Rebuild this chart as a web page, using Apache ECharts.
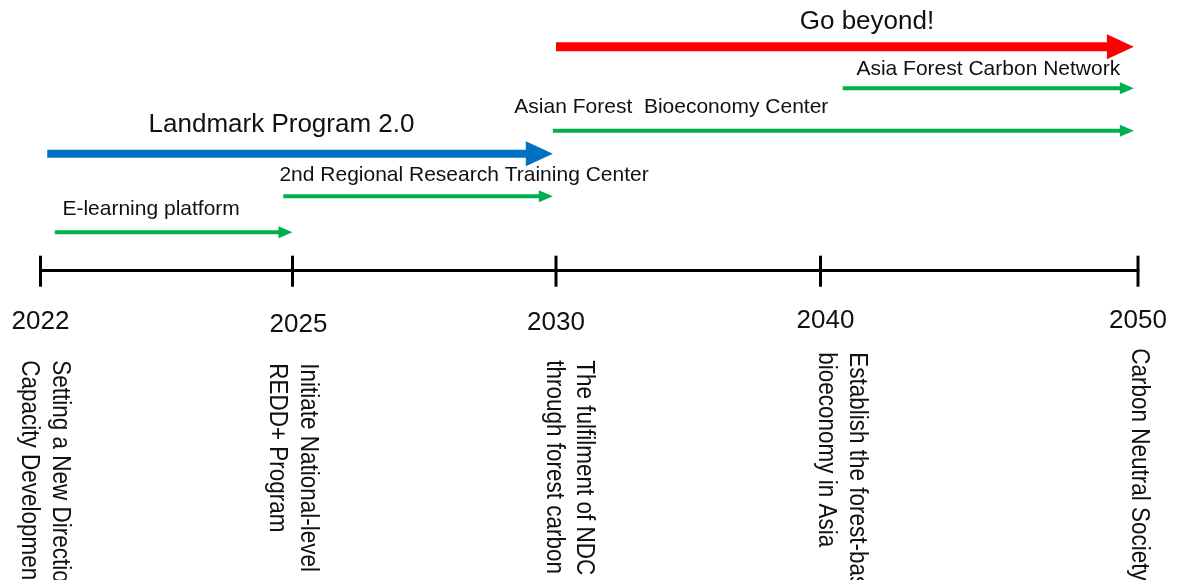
<!DOCTYPE html>
<html>
<head>
<meta charset="utf-8">
<script src="https://cdn.jsdelivr.net/npm/echarts@6/dist/echarts.min.js"></script>
<style>
  html, body { margin: 0; padding: 0; background: #fff; }
  #chart { width: 1179px; height: 580px; }
</style>
</head>
<body>
<div id="chart"></div>
<script>
// timeline ticks
const tickYears = [2022, 2025, 2030, 2040, 2050];
// where each tick sits along the drawn line (0 = start, 1 = end), the spacing is not linear in years
const tickStops = [0, 0.2296, 0.4697, 0.7107, 1];
const milestoneText = [
  'Setting a New Direction for\nCapacity Development',
  'Initiate National-level\nREDD+ Program',
  'The fulfilment of NDC\nthrough forest carbon',
  'Establish the forest-based\nbioeconomy in Asia',
  'Carbon Neutral Society'
];

// programmes drawn as arrows above the line
const arrowNames = [
  'Go beyond!',
  'Asia Forest Carbon Network',
  'Asian Forest  Bioeconomy Center',
  'Landmark Program 2.0',
  '2nd Regional Research Training Center',
  'E-learning platform'
];
const arrowFrom = [2030.0, 2040.7, 2029.94, 2022.08, 2024.89, 2022.17];
const arrowTo = [2049.87, 2049.87, 2049.87, 2029.94, 2029.94, 2025.0];
const arrowLane = [6.2, 5.05, 3.87, 3.23, 2.05, 1.05];

const FONT = "'Liberation Sans', Arial, sans-serif";

// year -> position on the x axis (piecewise between ticks)
function toAxis(year) {
  for (let i = 1; i < tickYears.length; i++) {
    if (year <= tickYears[i] || i === tickYears.length - 1) {
      const t = (year - tickYears[i - 1]) / (tickYears[i] - tickYears[i - 1]);
      return tickStops[i - 1] + t * (tickStops[i] - tickStops[i - 1]);
    }
  }
}

// look of each arrow: colour, shaft, head length/height, label size and placement
const arrowLook = [
  { color: '#ff0000', shaft: 9, headL: 27, headH: 25, font: 26, dx: 22, rise: 25 },
  { color: '#00b050', shaft: 4, headL: 14, headH: 12, font: 21, dx: 0, rise: 19.5 },
  { color: '#00b050', shaft: 4, headL: 14, headH: 12, font: 21, dx: -172, rise: 23.5 },
  { color: '#0070c0', shaft: 8, headL: 27, headH: 25, font: 26, dx: -18.5, rise: 29 },
  { color: '#00b050', shaft: 4, headL: 14, headH: 12, font: 21, dx: 46, rise: 21 },
  { color: '#00b050', shaft: 4, headL: 14, headH: 12, font: 21, dx: -22.5, rise: 23 }
];
const yearShift = [[0, 52], [6, 55], [0, 53], [5, 51], [0, 51]];
const textShift = [[4, 90], [0, 93], [13, 90], [21, 82], [1, 78]];

const arrowData = arrowNames.map((n, i) => [toAxis(arrowFrom[i]), toAxis(arrowTo[i]), arrowLane[i], i]);
const tickData = tickYears.map((y, i) => [toAxis(y), 0, i]);

const chart = echarts.init(document.getElementById('chart'));
chart.setOption({
  animation: false,
  grid: { left: 40.5, right: 41, top: 0, bottom: 0 },
  xAxis: {
    type: 'value', min: 0, max: 1,
    axisLine: { show: true, onZero: true, lineStyle: { color: '#000', width: 3 } },
    axisTick: { show: false },
    axisLabel: { show: false },
    splitLine: { show: false }
  },
  yAxis: {
    type: 'value', min: -8.6, max: 7.5, show: false,
    splitLine: { show: false }
  },
  series: [
    {
      type: 'custom',
      name: 'programmes',
      data: arrowData,
      renderItem: function (params, api) {
        const i = api.value(3);
        const look = arrowLook[i];
        const p0 = api.coord([api.value(0), api.value(2)]);
        const p1 = api.coord([api.value(1), api.value(2)]);
        const base = p1[0] - look.headL;
        return {
          type: 'group',
          children: [
            {
              type: 'rect',
              shape: { x: p0[0], y: p0[1] - look.shaft / 2, width: base - p0[0] + 1, height: look.shaft },
              style: { fill: look.color }
            },
            {
              type: 'polygon',
              shape: { points: [[base, p1[1] - look.headH / 2], [p1[0], p1[1]], [base, p1[1] + look.headH / 2]] },
              style: { fill: look.color }
            },
            {
              type: 'text',
              x: (p0[0] + p1[0]) / 2 + look.dx,
              y: p0[1] - look.rise,
              style: {
                text: arrowNames[i], fill: '#111',
                fontSize: look.font, fontFamily: FONT,
                align: 'center', verticalAlign: 'middle'
              }
            }
          ]
        };
      }
    },
    {
      type: 'custom',
      name: 'milestones',
      data: tickData,
      renderItem: function (params, api) {
        const i = api.value(2);
        const p = api.coord([api.value(0), 0]);
        return {
          type: 'group',
          children: [
            {
              type: 'rect',
              shape: { x: p[0] - 1.5, y: p[1] - 14.5, width: 3, height: 31 },
              style: { fill: '#000' }
            },
            {
              type: 'text',
              x: p[0] + yearShift[i][0],
              y: p[1] + yearShift[i][1],
              style: {
                text: String(tickYears[i]), fill: '#111',
                fontSize: 26, fontFamily: FONT,
                align: 'center', verticalAlign: 'middle'
              }
            },
            {
              // reads top to bottom, glyphs a little wider like the original
              type: 'text',
              x: p[0] + textShift[i][0],
              y: p[1] + textShift[i][1],
              rotation: -Math.PI / 2,
              scaleY: 1.14,
              style: {
                text: milestoneText[i], fill: '#111',
                fontSize: 22.5, fontFamily: FONT, lineHeight: 27,
                align: 'left', verticalAlign: 'middle'
              }
            }
          ]
        };
      }
    }
  ]
});
</script>
</body>
</html>
